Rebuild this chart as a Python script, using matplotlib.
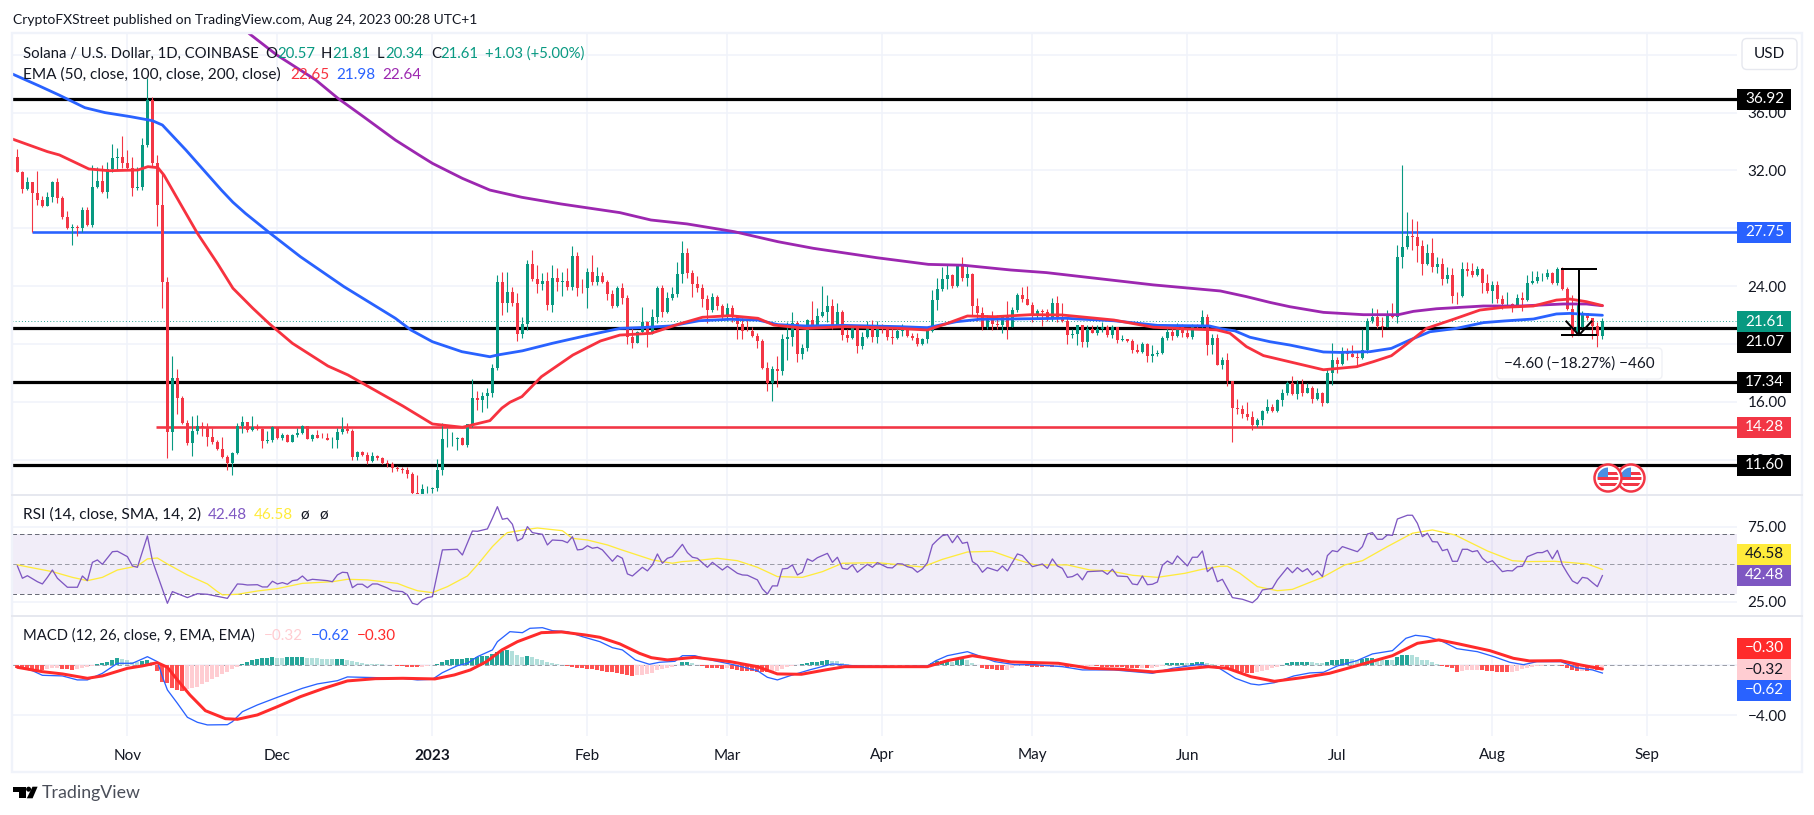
import numpy as np
import matplotlib
matplotlib.use("Agg")
import matplotlib.pyplot as plt
from matplotlib.patches import Rectangle, Circle, FancyBboxPatch, Polygon

plt.rcParams['font.family'] = ['Lato', 'DejaVu Sans']

# ---------- data: days are counted from 1 Jan 2023 ----------
first_candle_day = -83
first_open = 32.95
closes = [31.92,30.72,31.18,30.46,29.96,29.54,30.14,31.2,30.12,28.78,28.0,28.09,28.0,29.26,28.23,30.86,31.27,30.49,32.08,32.84,32.9,32.54,32.15,30.81,30.86,33.76,36.87,32.49,29.61,24.31,13.93,17.62,16.28,14.51,13.12,13.98,14.32,14.28,13.59,13.24,12.73,12.16,11.79,12.48,14.32,14.6,14.05,14.28,14.12,
13.31,13.36,14.28,13.5,13.7,13.24,13.7,13.86,14.32,13.43,13.7,13.52,13.5,13.36,13.36,13.91,14.12,13.98,12.16,12.55,12.32,11.9,12.25,12.11,11.74,11.7,11.42,11.33,11.28,11.0,9.67,9.6,9.94,9.97,10.03,
11.28,13.43,13.43,13.43,13.5,13.03,14.46,16.26,16.12,16.4,16.63,18.31,24.28,22.86,23.62,22.86,20.69,21.38,25.53,24.49,24.15,24.33,22.69,24.56,24.31,24.38,23.92,26.08,23.89,23.87,24.98,
24.31,24.7,24.31,23.45,22.62,23.89,23.18,20.46,20.04,20.82,21.54,20.66,21.84,23.87,22.23,23.15,23.45,24.84,26.27,24.93,24.12,23.89,23.08,22.35,23.27,22.62,21.89,22.48,21.93,21.38,20.92,20.87,20.55,20.2,18.33,17.32,18.24,18.15,20.32,20.46,21.42,19.3,19.72,21.65,21.15,21.93,22.21,22.62,21.24,22.21,20.62,20.43,21.12,19.88,20.46,21.26,20.46,21.22,21.12,20.46,20.43,20.92,21.12,20.55,20.43,20.0,20.32,20.92,
23.04,23.8,24.49,24.77,24.03,25.46,24.59,24.84,22.65,22.17,21.15,21.77,21.38,21.34,21.96,21.2,22.35,23.39,23.11,22.7,22.0,22.28,22.21,21.7,22.81,21.89,21.59,20.64,20.69,21.29,20.14,21.06,20.78,21.01,21.2,20.62,21.15,20.27,20.34,20.18,19.58,19.44,20.0,19.17,19.31,19.38,20.41,20.83,20.55,21.29,20.78,20.46,21.29,21.15,21.89,19.93,20.39,18.55,18.89,17.42,15.57,15.52,15.16,14.97,14.39,14.74,15.34,15.64,15.36,16.12,
16.62,17.32,16.53,17.2,16.58,16.95,16.19,16.6,15.89,18.01,18.88,18.63,19.43,19.28,19.11,19.0,19.57,21.56,21.84,21.24,21.19,22.04,21.88,26.03,26.68,27.46,27.42,26.79,25.52,26.31,25.34,25.52,24.51,24.76,23.33,23.31,25.16,25.06,24.76,25.18,24.23,23.63,24.07,23.1,22.73,22.76,22.57,23.15,23.06,24.19,24.32,24.62,24.65,24.88,24.19,25.18,23.8,22.41,20.68,21.2,22.11,21.77,21.24,20.57,21.61]
highs = [33.46,31.96,31.52,31.2,31.96,30.23,30.53,31.3,31.48,30.2,29.2,28.27,28.23,29.45,29.45,32.38,32.22,32.38,32.6,33.83,33.53,34.38,33.42,32.9,32.22,34.27,38.4,37.05,33.1,31.92,24.6,19.17,18.24,16.4,14.74,15.01,15.08,14.62,14.55,14.16,13.35,13.58,12.3,12.55,14.55,15.0,14.6,15.0,14.46,
14.16,14.0,14.32,14.28,13.86,13.75,13.77,14.16,14.39,14.28,13.77,14.05,13.86,13.86,13.54,14.19,14.95,14.53,14.09,12.57,12.62,12.55,12.55,12.32,12.2,11.97,11.83,11.58,11.51,11.46,11.14,10.93,10.29,10.2,10.08,
12.02,14.51,14.21,13.93,13.59,13.54,14.46,17.58,16.75,16.7,16.93,18.61,24.77,24.95,24.95,23.96,23.5,21.84,25.81,26.5,25.46,24.88,25.0,25.46,25.23,24.95,25.25,26.77,26.36,24.47,25.23,
26.15,25.3,24.95,24.42,23.73,24.0,24.24,23.38,21.19,20.92,22.53,21.61,22.39,24.01,24.08,23.61,23.96,25.64,27.12,26.63,25.11,24.7,24.14,23.38,23.55,23.38,22.76,22.85,22.69,22.0,21.77,21.7,21.15,20.73,20.36,18.73,18.47,19.16,20.69,21.54,22.18,21.61,19.97,21.7,23.0,22.46,24.01,23.38,23.08,22.85,22.35,21.03,21.31,21.19,20.85,21.61,21.65,21.58,21.38,21.31,21.24,21.24,21.38,21.08,20.73,20.73,20.39,21.01,
23.73,24.54,25.35,25.53,24.84,25.53,26.04,25.46,24.93,23.16,22.58,22.0,22.28,21.98,22.0,22.97,22.58,23.55,23.96,24.0,22.93,22.4,22.4,22.4,23.16,23.32,22.86,21.89,21.01,21.31,21.15,21.29,21.31,21.31,21.54,21.31,21.31,21.15,20.62,20.37,20.32,20.0,20.16,20.09,19.93,19.58,20.55,21.2,21.08,21.43,21.38,21.08,21.38,21.38,22.35,22.07,20.69,20.69,19.08,19.35,17.39,16.19,15.78,15.99,15.36,14.86,15.43,16.17,15.85,16.19,
16.9,17.45,17.78,17.5,17.55,17.27,17.09,16.92,16.69,18.24,20.04,19.07,19.81,19.69,19.92,19.46,21.03,21.77,22.46,22.39,21.84,22.34,22.8,26.84,32.37,29.14,28.64,28.5,27.18,26.91,27.3,25.99,25.96,25.29,25.22,23.61,25.66,25.64,25.62,25.41,25.25,24.83,24.35,24.35,23.38,23.61,22.85,23.45,23.61,24.76,25.06,25.06,24.88,25.16,24.97,25.29,25.29,23.91,23.36,22.8,22.25,22.11,21.81,21.5,21.81]
lows = [31.9,30.46,30.65,27.77,29.6,29.45,29.54,29.84,29.77,28.67,27.98,26.84,27.49,27.77,28.16,28.11,30.76,30.46,30.12,31.92,32.03,32.15,32.08,30.23,30.65,30.67,33.65,32.3,28.16,22.51,12.13,12.66,15.16,14.44,13.0,12.25,13.77,13.63,12.94,13.05,12.66,12.11,11.28,10.93,12.39,13.86,13.9,14.0,14.05,
12.83,13.17,13.24,13.43,13.36,13.22,13.19,13.59,13.77,13.43,13.31,13.5,13.5,13.36,12.8,12.8,13.77,13.82,11.97,11.97,12.25,11.7,11.86,11.97,11.7,11.51,11.14,11.21,11.1,10.73,9.6,9.55,9.55,9.67,9.67,
9.85,10.93,12.85,12.94,12.66,13.01,12.89,14.28,15.43,15.32,15.59,16.35,18.2,22.0,22.23,22.62,20.23,20.41,20.96,24.38,23.55,23.73,22.35,22.23,23.69,23.32,23.73,23.73,23.32,23.5,22.49,
24.08,24.08,24.19,23.04,22.51,22.53,22.76,20.0,19.74,20.04,20.66,19.81,20.69,21.47,21.84,22.12,23.04,23.27,24.19,24.54,23.27,23.61,22.53,21.47,22.23,22.35,21.7,21.61,21.54,20.34,20.34,20.87,20.46,19.72,18.24,16.77,16.05,17.04,17.85,18.89,19.88,18.77,18.96,19.53,21.08,21.08,21.84,21.54,21.03,21.19,20.27,20.13,20.34,19.4,19.65,20.39,20.16,20.09,20.73,20.27,20.0,20.36,20.55,20.5,20.27,19.88,19.93,20.09,
20.85,22.35,23.69,23.78,23.89,23.92,24.38,24.03,22.0,21.61,20.97,21.06,20.97,21.06,20.78,20.34,21.15,22.21,22.93,22.67,21.54,21.77,21.24,21.61,21.61,21.54,21.52,20.0,20.39,19.91,19.79,19.81,20.74,20.62,20.85,20.5,20.41,20.09,20.2,20.14,19.35,19.35,19.4,18.75,18.78,19.17,19.28,20.27,20.27,20.46,20.46,20.41,20.37,21.01,21.01,19.24,19.28,18.52,18.27,17.12,13.24,15.16,14.86,14.74,14.05,14.23,14.39,15.2,15.32,15.32,
15.7,16.46,16.46,16.16,16.39,16.58,15.89,16.12,15.7,15.93,17.15,17.96,18.54,18.88,19.07,18.42,18.93,19.39,21.42,21.08,20.5,21.19,21.77,21.47,25.27,26.54,26.49,25.69,24.76,25.46,25.0,24.92,24.07,24.19,22.85,22.76,23.22,24.69,24.65,24.72,23.54,23.54,22.8,22.8,22.39,22.53,22.23,22.53,22.3,23.0,24.12,24.23,24.37,24.46,24.14,24.07,23.73,22.34,20.5,20.6,21.19,21.65,20.31,19.74,20.34]

ema50_days = [-84,-77,-74.6,-68.7,-64.7,-58.9,-56.9,-54.9,-53.7,-49.3,-47,-43,-39.9,-35.9,-32.7,-28,-20.9,-16.9,-5.9,0,6,11.5,13.9,15.5,17.9,21.8,28.1,33.6,37.5,43.7,49.3,54,59.5,65.1,68.3,74.6,82.5,93.5,99,103,107,112.5,119.7,125.9,136.3,144.2,150.8,156.8,159.5,162.8,166.2,172.8,178.2,184.8,188.2,191.8,194.8,198.8,204.2,209.5,214.2,220.2,224.8,227.5,230.8,234]
ema50_values = [34.17,33.3,33.07,32.1,31.98,32.03,32.26,32.19,31.68,29.03,27.65,25.57,23.85,22.46,21.42,20.04,18.47,17.85,15.7,14.46,14.23,14.69,15.56,15.96,16.35,17.73,19.23,20.2,20.61,20.73,21.37,21.84,21.95,21.77,21.3,21.07,21.19,21.07,20.96,21.42,21.93,21.88,22.02,22.0,21.65,21.15,21.04,20.97,20.74,19.81,19.19,18.65,18.21,18.42,18.77,19.18,19.97,21.07,21.7,22.34,22.53,22.62,23.03,23.1,22.92,22.65]
ema100_days = [-84,-78.6,-74.7,-69.5,-65.5,-60.4,-56,-54,-49.3,-42.2,-39.9,-37.4,-32.7,-26.4,-17.7,-7.4,-4.3,0,5.9,11.5,13,18,24,30.5,37.5,41.4,47.7,53.3,59.5,65.1,69.1,74.6,82.5,93.5,99,104.7,109.4,119.7,126.7,136.3,145,155.4,157.8,160.5,163.5,167.5,171.5,178.2,181.5,187.5,191.8,195.5,199.5,204.8,210.2,214.2,220.2,224.8,227.5,230.8,234]
ema100_values = [38.67,37.84,37.22,36.34,36.0,35.72,35.44,35.14,33.41,30.64,29.8,29.03,27.72,26.03,23.96,21.77,20.96,20.15,19.46,19.11,19.23,19.52,20.04,20.55,21.07,21.12,21.24,21.6,21.7,21.65,21.33,21.24,21.28,21.19,21.12,21.53,21.7,21.74,21.77,21.6,21.28,21.24,21.04,20.9,20.46,20.15,19.92,19.44,19.41,19.46,19.69,20.27,20.84,21.07,21.47,21.58,21.72,22.07,22.11,22.04,21.98]
ema200_days = [-36.7,-31.1,-23.3,-18.9,-13.8,-7.4,-2.7,0,6,11.5,17.9,25.7,37.5,43.7,50.9,60.4,69.1,76.2,88.9,99.2,106.2,115.7,122.8,144.2,157.6,162.8,167.5,171.5,178.2,186.2,193.2,196.2,200.8,210.2,217.5,226.2,230.8,234]
ema200_values = [41.48,39.98,38.25,36.99,35.72,34.1,33.07,32.49,31.45,30.64,30.14,29.68,29.08,28.57,28.3,27.76,27.07,26.61,25.96,25.5,25.44,25.11,24.93,24.08,23.66,23.27,22.87,22.57,22.18,22.02,22.02,22.25,22.43,22.62,22.62,22.76,22.76,22.64]

rsi_days = [-83,-82,-81,-79,-78,-77,-76,-75,-73,-71,-70,-69,-68,-67,-66,-64,-63,-61,-60,-59,-57,-56,-55,-53,-52,-49,-47,-45,-41,-39,-38,-37,-35,-34,-33,-32,-31,-30,-29,-28,-27,-26,-25,-24,-21,-20,-19,-18,-17,-16,-15,-14,-13,-12,-11,-9,-8,-6,-5,-4,-3,-2,-1,0,2,5,6,8,9,11,12,13,14,15,16,17,18,19,20,22,23,24,26,27,28,29,30,31,32,33,34,36,37,38,39,40,42,43,44,45,46,47,48,50,51,52,53,55,56,58,59,61,62,63,65,66,67,68,69,70,71,72,73,74,75,76,77,79,80,81,82,83,84,85,87,88,89,91,92,93,94,95,96,97,98,99,100,101,102,103,104,105,106,107,108,109,110,111,113,114,115,117,118,120,122,123,124,125,126,127,128,129,130,131,134,135,136,137,139,140,141,142,143,144,145,146,147,148,149,151,152,153,154,155,156,157,158,160,162,164,165,166,168,169,171,172,173,174,175,176,177,178,179,180,181,182,185,186,187,188,189,190,191,192,193,195,196,197,198,199,200,201,202,203,204,205,206,207,208,209,210,211,212,214,215,216,217,218,219,221,222,223,224,225,226,227,228,229,230,231,232,233,234]
rsi_values = [48.9,40.7,42.4,38.4,36.9,41.3,46.2,40.7,34.7,34.7,42.2,39.1,51.3,52.9,50,58.4,58.7,55.1,48.9,48,68.9,52.4,42.9,24,31.8,27.8,30.4,30,27.3,36.9,36.7,36.2,36.4,34.9,34.9,38.7,36.9,37.8,36.7,39.1,39.6,42.2,39.1,40,39.1,38.4,42.9,44.7,44.4,34.4,36.7,36.7,34.4,36.9,36.9,34.2,32.4,31.8,29.6,24,23.1,26.2,27.8,28.4,59.6,60,56.2,72.2,72,73.6,80.7,88.4,80,80.7,76.7,65.6,67.3,75.1,71.1,70,62.9,66.2,65.8,64.4,68.4,59.6,60,62.4,60.7,61.3,59.6,52,55.8,54,43.6,42.2,48,45.6,49.6,56.9,50.7,54,55.1,63.3,57.8,54.7,54,48,51.3,46.2,48.7,44,42.9,42.7,39.6,33.6,30.2,35.6,35.6,46.9,47.3,49.6,42.9,44.7,53.6,52,54.4,57.3,51.3,54.7,47.3,46.7,49.6,44.7,50,48,51.1,47.8,47.6,50.4,50.2,48.4,47.6,44.7,46.9,51.1,62.9,66.2,69.1,69.8,64.4,69.1,64,64.7,51.8,49.6,44.7,47.8,45.6,48.9,45.6,56.9,55.8,48.4,50.2,47.3,53.6,48.9,47.3,41.3,41.8,43.6,39.6,45.1,45.6,43.3,46.7,42.2,41.8,36.9,36.4,42.2,36.4,36.7,38.2,49.3,52.2,50.2,55.6,48.9,54.7,54.7,58.9,45.1,48,38.4,40,27.8,26.7,24.4,27.3,32.9,34,39.6,47.8,44.4,47.8,45.1,47.1,42.9,45.6,41.8,55.8,59.1,58.4,61.8,58.4,61.8,70.2,71.1,66.7,66.7,69.6,69.3,80.2,82.7,82.7,77.3,68.4,70.7,65.1,64.9,59.1,60,52,52,60,60,58.4,59.1,54,51.1,52.4,45.1,45.8,45.6,48.4,48.7,55.1,57.8,57.8,59.3,53.6,59.3,49.6,44,38.9,37.1,41.3,40.7,37.8,35.1,42.48]
rsi_ma_days = [-83,-76,-72,-69,-66,-63,-59,-57,-55,-53,-49,-45,-43,-42,-39,-35,-31,-26,-20,-17,-13,-7,-5,-3,0,3,7,9,12,14,15,19,21,26,28,31,35,37.5,44,48,50,52.5,57,61,65,69,74,78,82,89,98,102,107,112,116,120.5,127,131.5,135.5,140,145,150.5,154,157.5,159,161.5,165,169,172,178,182.5,186,191,196,200,204.5,211,216,219,224.5,231,234]
rsi_ma_values = [49.6,45.1,41.3,39.1,41.3,46.2,48.9,53.6,54.2,50.2,42.9,36.9,31.8,29.6,30,32.2,33.8,37.3,38.4,40,39.6,37.3,34.7,32.4,31.1,35.1,42.2,49.6,61.8,68.4,71.1,73.3,74.2,72.4,67.3,66.2,62.9,60,52.9,50.7,51.8,52.4,54,52.4,48,41.8,41.3,45.1,50.7,51.1,48.2,53.3,58.2,58.7,54,49.6,49.6,46.2,45.6,42.7,41.3,44,46.7,48.7,48.7,44,35.1,32.4,33.3,41.3,49.6,52.4,61.8,70.7,72.9,69.6,58.9,52.4,51.8,52,50.2,46.58]

macd_days = [-83,-80,-78,-74,-71,-69,-66,-63,-60,-58,-57,-55,-54,-53,-51,-49,-47,-45,-41,-40,-38,-35,-31,-26,-23,-19,-17,-11,-6,-3,0,2,5,7,9,12,13,15.5,18,19.5,22,24,27,30,33.5,36,38,40.6,43.4,45.4,48.5,50,52.5,55.6,60.4,65,67,69,71.4,75.4,80,84,92.8,99,100.7,103,107,109.4,112.5,116.5,120.5,126,130,136.3,144,148,153.6,157.4,160.6,163.7,165.3,168.4,172.3,175.5,178.2,181,184.9,188,192,194.7,196.6,199,202.1,204.9,209,212.3,215.5,218.2,220.9,225.7,228.8,232,234]
macd_values = [-0.11,-0.43,-0.8,-0.85,-1.17,-1.17,-0.64,0.16,0.16,0.51,0.69,0.29,-0.91,-1.97,-3.04,-4.16,-4.56,-4.77,-4.75,-4.51,-3.71,-3.17,-2.56,-1.84,-1.49,-1.23,-0.93,-0.99,-1.04,-1.17,-1.12,-0.59,-0.03,0.16,0.69,1.23,1.89,2.69,2.61,2.96,3.01,2.77,2.69,2.29,1.89,1.41,1.23,0.43,0.08,0.24,0.32,0.77,0.77,0.43,0.03,-0.43,-0.96,-1.17,-0.85,-0.37,0.11,-0.03,-0.11,-0.05,0.37,0.77,1.09,0.75,0.29,0.05,0.05,-0.11,-0.37,-0.37,-0.64,-0.24,0.08,-0.24,-1.04,-1.49,-1.57,-1.39,-0.85,-0.61,-0.56,-0.05,0.37,0.91,1.17,2.16,2.4,2.29,1.89,1.33,1.09,0.69,0.24,0.05,0.29,0.29,-0.19,-0.37,-0.62]
signal_days = [-83,-78,-74,-69,-66,-61,-58,-55,-53,-51,-48.5,-45.4,-41.4,-39,-35,-31,-26.4,-21.7,-17,-11.4,-5.9,0.5,4.4,7.6,10.8,13.9,17,21.8,25.8,30.5,33.5,37.5,41.4,43.8,47,52.5,59.6,65,69,73.8,78.6,82.5,99,103,108,115.7,125.2,131.5,137.8,144.2,150.5,155.2,159,163.7,168.4,173.9,179.4,184.9,192,197,201.3,205.3,211.5,216.2,219.4,225.7,229.6,234]
signal_values = [-0.16,-0.51,-0.69,-1.04,-0.85,-0.24,-0.05,0.21,-0.16,-1.17,-2.37,-3.63,-4.27,-4.32,-3.97,-3.31,-2.51,-1.84,-1.25,-1.07,-1.04,-1.09,-0.77,-0.37,0.29,1.23,1.89,2.61,2.67,2.43,2.24,1.71,0.96,0.61,0.43,0.64,0.29,-0.11,-0.69,-0.72,-0.37,-0.11,-0.11,0.37,0.77,0.27,0.16,-0.24,-0.32,-0.53,-0.29,-0.11,-0.24,-0.91,-1.28,-0.99,-0.64,-0.03,0.77,1.76,2.03,1.71,1.17,0.56,0.35,0.37,0.03,-0.3]
histogram = [-0.2,-0.25,-0.3,-0.33,-0.35,-0.4,-0.33,-0.25,-0.2,-0.28,-0.33,-0.37,-0.3,-0.22,-0.1,-0.02,0.1,0.2,0.3,0.42,0.55,0.48,0.4,0.3,0.25,0.32,0.45,0.25,
-0.45,-1.3,-1.45,-1.85,-2.0,-2.05,-1.9,-1.85,-1.7,-1.5,-1.3,-1.1,-0.9,-0.7,-0.5,-0.3,-0.1,
.12,.3,.45,.52,.58,.6,.63,.62,.6,.63,.65,.66,.67,.6,.58,.55,.52,.5,.48,.49,.5,.42,.35,.28,.2,.14,.1,.09,.08,.06,.04,-.02,-.08,-.12,-.14,-.14,-.1,-.06,
.03,.12,.25,.4,.48,.5,.52,.55,.62,.68,.75,.78,.9,1.1,1.15,1.22,1.15,.8,.7,.75,.65,.5,.4,.3,.2,.1,.04,-.08,-.12,-.18,-.22,-.28,-.33,-.38,
-.45,-.5,-.55,-.65,-.72,-.8,-.82,-.8,-.76,-.68,-.58,-.4,-.33,-.2,-.1,.03,.28,.29,.15,.06,-.03,-.2,-.22,-.25,-.28,-.25,-.3,-.35,-.42,-.45,-.46,-.5,-.52,-.55,-.5,-.45,-.3,-.15,-.05,.02,.08,.2,.25,.3,.32,.4,.35,.32,.18,.1,.03,
.02,.02,.01,.01,.02,.01,.01,.01,.02,.02,.01,.01,.01,.02,.03,
.15,.35,.35,.45,.3,.5,.52,.45,.2,.03,-.2,-.28,-.33,-.35,-.38,-.35,-.25,-.08,-.05,-.06,-.1,-.13,-.14,-.13,-.15,-.13,-.1,-.1,-.11,-.1,-.08,-.06,-.04,-.05,-.1,-.13,-.14,-.15,-.17,-.19,-.2,-.22,-.2,-.22,-.2,-.1,-.02,.15,.16,.2,.21,.2,.21,.23,.27,.15,.08,.05,
-.02,-.2,-.3,-.5,-.55,-.6,-.62,-.55,-.42,-.38,-.25,-.1,.05,.22,.3,.3,.3,.3,.28,.22,.2,.3,.42,.45,.5,.52,.48,.42,.5,.55,.6,.45,.42,.45,.42,.68,.8,.85,.82,.65,.45,.4,.25,.1,-.05,-.15,-.25,-.5,-.42,-.4,-.37,-.35,-.38,-.45,-.48,-.5,-.53,-.55,-.5,-.45,-.3,-.2,-.1,-.06,-.03,.03,.03,.02,-.05,-.2,-.35,-.45,-.42,-.42,-.35,-.35,-.32]

price_ticks = [12, 16, 20, 24, 28, 32, 36, 40]
price_tick_labels = ['12.00', '16.00', '', '24.00', '', '32.00', '36.00', '']
rsi_ticks = [25, 75]
macd_ticks = [-4]
month_days = [-61, -31, 0, 31, 59, 90, 120, 151, 181, 212, 243]
month_labels = ['Nov', 'Dec', '2023', 'Feb', 'Mar', 'Apr', 'May', 'Jun', 'Jul', 'Aug', 'Sep']
black_levels = [36.92, 21.07, 17.34, 11.60]
blue_level = 27.75
red_level = 14.28
last_close = 21.61
measure_top, measure_bottom = 25.2, 20.6

# ---------- layout, in reference pixels ----------
W, H = 1815, 815
L, R = 12, 1737
T_MAIN, B_MAIN, B_RSI, B_MACD = 33, 495, 616, 736
def axes_px(top, bottom):
    return [L / W, 1 - bottom / H, (R - L) / W, (bottom - top) / H]

GREEN, RED, BLUE, PURPLE = '#089981', '#f23645', '#2962ff', '#9c27b0'
TEXT, GRID = '#131722', '#f0f3fa'
FS = 11.0
PT = 0.72

fig = plt.figure(figsize=(W / 100, H / 100), dpi=100, facecolor='white')
ax = fig.add_axes(axes_px(T_MAIN, B_MAIN))
ar = fig.add_axes(axes_px(B_MAIN, B_RSI), sharex=ax)
am = fig.add_axes(axes_px(B_RSI, B_MACD), sharex=ax)

for a in (ax, ar, am):
    for s in a.spines.values():
        s.set_visible(False)
    a.yaxis.tick_right()
    a.tick_params(axis='y', length=0, pad=7.5, labelsize=FS, labelcolor=TEXT)
    a.tick_params(axis='x', length=0, labelbottom=False)
    a.set_xticks(month_days)
    a.grid(True, color=GRID, lw=1.1)
    a.set_axisbelow(True)

ax.set_xlim((L - 432.4) / 5, (R - 432.4) / 5)
ax.set_ylim(36.92 - (B_MAIN - 99.3) / 14.455, 36.92 - (T_MAIN - 99.3) / 14.455)
ax.set_yticks(price_ticks, price_tick_labels)
ar.set_ylim(50 + (564.3 - B_RSI) / 1.5, 50 + (564.3 - B_MAIN) / 1.5)
ar.set_yticks(rsi_ticks, ['25.00', '75.00'])
am.set_ylim(-(B_MACD - 665.3) / 12.5, (665.3 - B_RSI) / 12.5)
am.set_yticks([-4, 0], ['\u22124.00', ''])

am.tick_params(axis='x', labelbottom=True, pad=9, labelsize=FS, labelcolor=TEXT)
am.set_xticks(month_days, month_labels)
for lab, txt in zip(am.get_xticklabels(), month_labels):
    if txt == '2023':
        lab.set_fontweight('bold')

# main pane
days = np.arange(first_candle_day, first_candle_day + len(closes))
opens = np.array([first_open] + closes[:-1])
closes_a, highs_a, lows_a = np.array(closes), np.array(highs), np.array(lows)
up = closes_a >= opens
cols = np.where(up, GREEN, RED)
for lv in black_levels:
    ax.axhline(lv, color='black', lw=3.2 * PT, zorder=2)
ax.hlines(blue_level, -80.1, 300, color=BLUE, lw=2.6 * PT, zorder=2)
ax.hlines(red_level, -55.3, 300, color=RED, lw=2.6 * PT, zorder=2)
ax.axhline(last_close, color=GREEN, lw=0.9 * PT, ls=(0, (1, 2.5)), zorder=2)
ax.vlines(days, lows_a, highs_a, color=cols, lw=1.1 * PT, zorder=3)
ax.bar(days, np.abs(closes_a - opens), bottom=np.minimum(closes_a, opens), width=0.62, color=cols, zorder=3, linewidth=0)
ax.plot(ema200_days, ema200_values, color=PURPLE, lw=2.8 * PT, zorder=4, solid_capstyle='round', solid_joinstyle='round')
ax.plot(ema100_days, ema100_values, color=BLUE, lw=2.8 * PT, zorder=4.2, solid_capstyle='round', solid_joinstyle='round')
ax.plot(ema50_days, ema50_values, color='#f7323f', lw=2.8 * PT, zorder=4.4, solid_capstyle='round', solid_joinstyle='round')

# measuring tool
ax.hlines(measure_top, 225.7, 233, color='black', lw=2 * PT, zorder=5)
ax.hlines(measure_bottom, 225.7, 233, color='black', lw=2 * PT, zorder=5)
ax.vlines(229.3, measure_bottom, measure_top, color='black', lw=2 * PT, zorder=5)
ax.plot([226.8, 229.3, 231.8], [21.55, measure_bottom, 21.55], color='black', lw=2 * PT, zorder=5)

# RSI pane
ar.axhspan(30, 70, color='#7e57c2', alpha=0.1, lw=0)
for lv in (70, 50, 30):
    ar.axhline(lv, color='#787b86' if lv == 50 else '#6a6d78', lw=1.0 * PT, ls=(0, (4.5, 3)), alpha=0.7 if lv == 50 else 1)
ar.plot(rsi_ma_days, rsi_ma_values, color='#ffeb3b', lw=1.3 * PT, zorder=3)
ar.plot(rsi_days, rsi_values, color='#7e57c2', lw=1.3 * PT, zorder=4)

# MACD pane
am.axhline(0, color='#787b86', lw=1.0 * PT, ls=(0, (4.5, 3)), alpha=0.7, zorder=1)
hist = np.array(histogram)
hist_days = days[:len(hist)]
prev = np.r_[hist[0], hist[:-1]]
hist_cols = ['#26a69a' if (v >= 0 and v >= p) else '#b2dfdb' if v >= 0 else '#ffcdd2' if v > p else '#ff5252'
             for v, p in zip(hist, prev)]
am.bar(hist_days, hist, width=0.8, color=hist_cols, zorder=2, linewidth=0)
am.plot(macd_days, macd_values, color=BLUE, lw=1.3 * PT, zorder=3)
am.plot(signal_days, signal_values, color='#ff2b2b', lw=3 * PT, zorder=4, solid_capstyle='round', solid_joinstyle='round')

# ---------- pixel overlay for the chart frame, legends and price tags ----------
ov = fig.add_axes([0, 0, 1, 1], zorder=20)
ov.set_xlim(0, W)
ov.set_ylim(H, 0)
ov.axis('off')
ov.patch.set_alpha(0)

FRAME = '#e6e8ef'
ov.add_patch(Rectangle((12, 33), 1790, 739, fill=False, ec='#f0f3fa', lw=2.4 * PT))
ov.plot([12, 1802], [B_MAIN, B_MAIN], color=FRAME, lw=2 * PT)
ov.plot([12, 1802], [B_RSI, B_RSI], color=FRAME, lw=2 * PT)

def put(x, y, s, color=TEXT, size=FS, **kw):
    ov.text(x, y, s, color=color, fontsize=size, va='center', ha=kw.pop('ha', 'left'), **kw)

put(13, 20, 'CryptoFXStreet published on TradingView.com, Aug 24, 2023 00:28 UTC+1', size=10.0)
put(23, 54, 'Solana / U.S. Dollar, 1D, COINBASE', size=10.75)
for x, s, c in [(265, 'O', TEXT), (277, '20.57', GREEN), (321, 'H', TEXT), (332, '21.81', GREEN),
                (377, 'L', TEXT), (385, '20.34', GREEN), (431, 'C', TEXT), (440, '21.61', GREEN),
                (485, '+1.03 (+5.00%)', GREEN)]:
    put(x, 54, s, c, size=10.75)
put(23, 75, 'EMA (50, close, 100, close, 200, close)', size=11.1)
for x, s, c in [(290.5, '22.65', '#f7323f'), (336, '21.98', BLUE), (382, '22.64', PURPLE)]:
    put(x, 75, s, c)
put(23, 515, 'RSI (14, close, SMA, 14, 2)', size=11.2)
for x, s, c in [(208, '42.48', '#7e57c2'), (254, '46.58', '#ffeb3b'), (300, '\u00f8', TEXT), (319, '\u00f8', TEXT)]:
    put(x, 515, s, c)
put(23, 636, 'MACD (12, 26, close, 9, EMA, EMA)', size=10.6)
for x, s, c in [(264, '\u22120.32', '#ffcdd2'), (311, '\u22120.62', BLUE), (356.5, '\u22120.30', '#ff2b2b')]:
    put(x, 636, s, c)

tags = [(99, '36.92', 'black', 'white'), (232, '27.75', BLUE, 'white'), (321.5, '21.61', GREEN, 'white'),
        (342.5, '21.07', 'black', 'white'), (382, '17.34', 'black', 'white'), (427, '14.28', RED, 'white'),
        (465, '11.60', 'black', 'white'), (554, '46.58', '#ffeb3b', TEXT), (575, '42.48', '#7e57c2', 'white'),
        (648, '\u22120.30', '#ff2b2b', 'white'), (669.5, '\u22120.32', '#ffcdd2', TEXT), (690.5, '\u22120.62', BLUE, 'white')]
for y, s, bg, fg in tags:
    ov.add_patch(Rectangle((1737, y - 10.5), 54, 21, fc=bg, ec='none'))
    put(1784, y, s, fg, ha='right')

ov.add_patch(FancyBboxPatch((1742, 38.5), 55, 31, boxstyle='round,pad=0,rounding_size=5', fc='white', ec='#e6e8ef', lw=1))
put(1769, 54, 'USD', ha='center')

# measure caption
ov.add_patch(FancyBboxPatch((1497, 348), 165, 31, boxstyle='round,pad=0,rounding_size=4', fc='white', ec='#f0f1f5', lw=1))
put(1579.5, 363.5, '\u22124.60 (\u221218.27%) \u2212460', ha='center')

# event flags
for cx in (1631, 1608):
    ov.add_patch(Circle((cx, 478), 13.5, fc='white', ec='#f23645', lw=1.8))
    clip = Circle((cx, 478), 10.5, transform=ov.transData)
    for y0 in (472, 477, 483):
        r = Rectangle((cx - 11, y0), 22, 2.6, fc='#f23645', ec='none')
        ov.add_patch(r)
        r.set_clip_path(clip)
    r = Rectangle((cx - 11, 467), 11, 10, fc='#4a90e2', ec='none')
    ov.add_patch(r)
    r.set_clip_path(clip)

# TradingView mark
ov.add_patch(Polygon([(13, 786.7), (25.7, 786.7), (25.7, 798.3), (18.6, 798.3), (18.6, 791.7), (13, 791.7)], fc='black', ec='none'))
ov.add_patch(Circle((28.6, 789.2), 2.5, fc='black', ec='none'))
ov.add_patch(Polygon([(32.5, 786.7), (37.6, 786.7), (32.6, 798.3), (26.8, 798.3)], fc='black', ec='none'))
put(42, 793, 'TradingView', '#4a4e59', size=12.8)

fig.savefig('out.png', dpi=100, facecolor='white')
